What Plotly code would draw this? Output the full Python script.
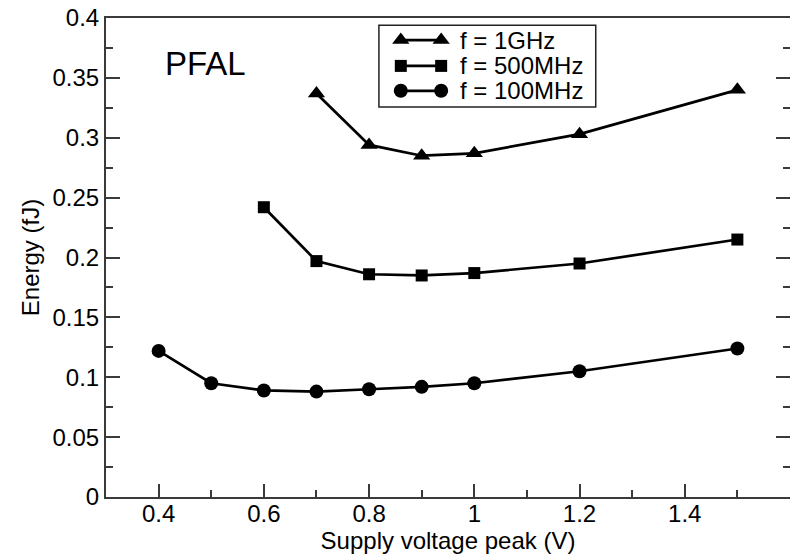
import plotly.graph_objects as go

x_1ghz = [0.7, 0.8, 0.9, 1.0, 1.2, 1.5]
y_1ghz = [0.337, 0.294, 0.285, 0.287, 0.303, 0.340]
x_500 = [0.6, 0.7, 0.8, 0.9, 1.0, 1.2, 1.5]
y_500 = [0.242, 0.197, 0.186, 0.185, 0.187, 0.195, 0.215]
x_100 = [0.4, 0.5, 0.6, 0.7, 0.8, 0.9, 1.0, 1.2, 1.5]
y_100 = [0.122, 0.095, 0.089, 0.088, 0.090, 0.092, 0.095, 0.105, 0.124]
names = ["f = 1GHz", "f = 500MHz", "f = 100MHz"]
symbols = ["triangle-up", "square", "circle"]
sizes = [15, 12, 14]
x_ticks = [0.4, 0.6, 0.8, 1.0, 1.2, 1.4]
x_ticklabels = ["0.4", "0.6", "0.8", "1", "1.2", "1.4"]

font = "Liberation Sans, Arial, Helvetica, sans-serif"
axcol = "#3a3a3a"

fig = go.Figure()
for xs, ys, nm, sym, sz in zip([x_1ghz, x_500, x_100], [y_1ghz, y_500, y_100], names, symbols, sizes):
    fig.add_trace(go.Scatter(
        x=xs, y=ys, name=nm, mode="lines+markers", showlegend=False,
        line=dict(color="black", width=2.7),
        marker=dict(symbol=sym, size=sz, color="black"),
    ))

# custom legend (layout: sample glyphs on a hidden overlay axis in paper-like units)
leg_rows = [0.954, 0.900, 0.848]
leg_x0, leg_x1, leg_tx = 0.431, 0.490, 0.515
annotations = [dict(
    text="PFAL", x=0.083, y=0.905, xref="paper", yref="paper",
    xanchor="left", yanchor="middle", showarrow=False,
    font=dict(size=33, color="black", family=font),
)]
for nm, sym, sz, ry in zip(names, symbols, sizes, leg_rows):
    fig.add_trace(go.Scatter(
        x=[leg_x0, leg_x1], y=[ry, ry], mode="lines+markers", showlegend=False,
        xaxis="x2", yaxis="y2", hoverinfo="skip",
        line=dict(color="black", width=2.7),
        marker=dict(symbol=sym, size=sz, color="black"),
    ))
    annotations.append(dict(
        text=nm, x=leg_tx, y=ry, xref="paper", yref="paper",
        xanchor="left", yanchor="middle", showarrow=False,
        font=dict(size=24, color="black", family=font),
    ))

fig.update_layout(
    width=790, height=548,
    margin=dict(l=98, r=8, t=10, b=59, autoexpand=False),
    paper_bgcolor="white", plot_bgcolor="white",
    font=dict(family=font, size=24, color="black"),
    showlegend=False,
    xaxis=dict(
        range=[0.3, 1.6], tickmode="array", tickvals=x_ticks, ticktext=x_ticklabels,
        showgrid=False, zeroline=False,
        showline=True, linecolor=axcol, linewidth=2, mirror=True,
        ticks="inside", ticklen=13, tickwidth=1.5, tickcolor=axcol,
        minor=dict(dtick=0.1, tick0=0.3, ticks="inside", ticklen=7, tickwidth=1.5, tickcolor=axcol),
        title=dict(text="Supply voltage peak (V)", font=dict(size=24), standoff=0),
        tickfont=dict(size=24), automargin=False, ticklabelstandoff=-6,
    ),
    yaxis=dict(
        range=[0, 0.40001], dtick=0.05, showgrid=False, zeroline=False,
        showline=True, linecolor=axcol, linewidth=2, mirror="ticks",
        ticks="inside", ticklen=14, tickwidth=1.5, tickcolor=axcol,
        minor=dict(dtick=0.025, ticks="inside", ticklen=7, tickwidth=1.5, tickcolor=axcol),
        title=dict(text="Energy (fJ)", font=dict(size=24), standoff=6),
        tickfont=dict(size=24), automargin=False, ticklabeloverflow="allow",
    ),
    xaxis2=dict(overlaying="x", range=[0, 1], visible=False, fixedrange=True),
    yaxis2=dict(overlaying="y", range=[0, 1], visible=False, fixedrange=True),
    shapes=[dict(
        type="rect", xref="paper", yref="paper",
        x0=0.399, x1=0.716, y0=0.814, y1=0.985,
        line=dict(color="#222222", width=1.5), fillcolor="white", layer="below",
    )],
    annotations=annotations,
)

fig.write_html("out.html")
